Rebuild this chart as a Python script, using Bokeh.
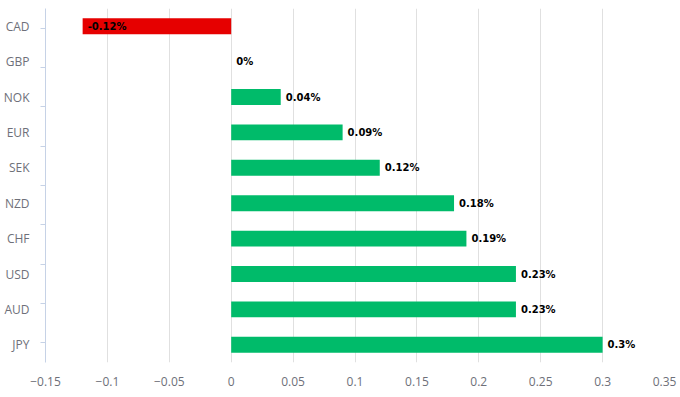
from bokeh.plotting import figure
from bokeh.models import (ColumnDataSource, FactorRange, Range1d,
                          CategoricalAxis, FixedTicker)
from bokeh.core.properties import value
from bokeh.embed import file_html
from bokeh.resources import INLINE

currencies = ["CAD", "GBP", "NOK", "EUR", "SEK", "NZD", "CHF", "USD", "AUD", "JPY"]
changes = [-0.12, 0.0, 0.04, 0.09, 0.12, 0.18, 0.19, 0.23, 0.23, 0.3]
x_ticks = [-0.15, -0.1, -0.05, 0, 0.05, 0.1, 0.15, 0.2, 0.25, 0.3, 0.35]
x_tick_labels = ["\u22120.15", "\u22120.1", "\u22120.05", "0", "0.05", "0.1", "0.15",
                 "0.2", "0.25", "0.3", "0.35"]

colors = ["#e60000" if v < 0 else "#00bb6a" for v in changes]
labels = [f"{v:g}%" for v in changes]

src = ColumnDataSource(dict(cur=currencies, val=changes, color=colors, label=labels))

p = figure(width=680, height=397, output_backend="svg", toolbar_location=None,
           y_range=FactorRange(factors=currencies[::-1]),
           x_range=Range1d(-0.15, 0.35), y_axis_location=None,
           min_border_left=44, min_border_right=16, min_border_top=8,
           min_border_bottom=35)
p.outline_line_color = None
# helper range whose factor centres fall on the band edges of the main range
edge_names = [f"edge{i}" for i in range(len(currencies) + 1)]
p.extra_y_ranges = {"edges": FactorRange(factors=edge_names, range_padding=-1,
                                         range_padding_units="absolute")}

p.hbar(y="cur", left=0, right="val", height=0.45, fill_color="color",
       line_color=None, source=src)
p.text(x="val", y="cur", text="label", source=src, x_offset=5,
       text_align="left", text_baseline="middle", text_font=value("DejaVu Sans"),
       text_font_size="10px", text_font_style="bold", text_color="#000000")

# x axis
xa = p.xaxis[0]
xa.ticker = FixedTicker(ticks=x_ticks)
xa.major_label_overrides = {t: s for t, s in zip(x_ticks, x_tick_labels)}
xa.axis_line_color = None
xa.major_tick_line_color = None
xa.minor_tick_line_color = None
xa.major_label_text_font = "Open Sans"
xa.major_label_text_font_size = "12px"
xa.major_label_text_color = "#6e7079"
xa.major_label_standoff = 8

p.xgrid.ticker = FixedTicker(ticks=x_ticks)
p.xgrid.grid_line_color = "#e0e0e0"
p.ygrid.grid_line_color = None

# y axis: tick marks at band edges (labels not drawn)
edge_axis = CategoricalAxis(y_range_name="edges",
                            major_label_text_font_size="0px", major_label_standoff=0,
                            major_label_text_color=None,
                            major_tick_out=5, major_tick_in=0,
                            axis_line_color="#c6d2e6", major_tick_line_color="#c6d2e6")
p.add_layout(edge_axis, "left")

cat_axis = CategoricalAxis(axis_line_color=None, major_tick_line_color=None,
                           major_tick_out=0, major_label_standoff=11,
                           major_label_text_font="Open Sans",
                           major_label_text_font_size="12px",
                           major_label_text_color="#6e7079")
p.add_layout(cat_axis, "left")

open("out.html", "w").write(file_html(p, INLINE))
